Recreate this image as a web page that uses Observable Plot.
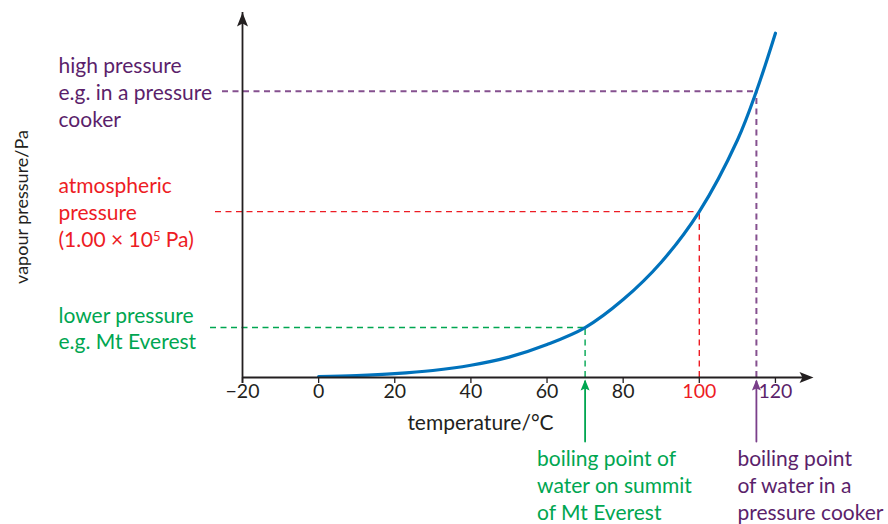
<!DOCTYPE html>
<html>
<head>
<meta charset="utf-8">
<script src="https://cdn.jsdelivr.net/npm/d3@7"></script>
<script src="https://cdn.jsdelivr.net/npm/@observablehq/plot@0.6"></script>
<style>
  html, body { margin: 0; padding: 0; background: #fff; }
  #chart { width: 888px; height: 524px; }
</style>
</head>
<body>
<div id="chart"></div>
<script>
// ---- data ----
const temps = [0, 10, 20, 30, 40, 50, 60, 70, 80, 90, 100, 110, 115, 120];
const pressures = [0.6, 1.2, 2.3, 4.2, 7.4, 12.3, 19.9, 30.1, 47, 69.5, 100, 143, 172.5, 207.5];

const xTicks = [-20, 0, 20, 40, 60, 80, 100, 120];
const xTickLabels = ["\u221220", "0", "20", "40", "60", "80", "100", "120"];

const markerNames = ["everest", "atmospheric", "cooker"];
const markerTemps = [70, 100, 115];
const markerPressures = [30.1, 100, 172.5];
const markerLeftLabels = [
  "lower pressure\ne.g. Mt Everest",
  "atmospheric\npressure\n(1.00 \u00d7 10\u2075 Pa)",
  "high pressure\ne.g. in a pressure\ncooker"
];
const markerBottomLabels = [
  "boiling point of\nwater on summit\nof Mt Everest",
  null,
  "boiling point\nof water in a\npressure cooker"
];

const xDomain = [-20, 130];
const yDomain = [0, 220];

// ---- styles ----
const C = {
  ink: "#231f20",
  blue: "#0072bc",
  green: "#00a651",
  red: "#ed1c24",
  purpleText: "#5b1f6b",
  purpleDash: "#85508f",
  purpleArrow: "#7a3f8a"
};
const textColors = [C.green, C.red, C.purpleText];
const dashColors = [C.green, C.red, C.purpleDash];
const dashWidths = [1.4, 1.4, 2];
const dashInsets = [-32, -27, -20];
const tickColors = xTicks.map(t => t === 100 ? C.red : t === 120 ? C.purpleText : C.ink);
const FS = 21;       // annotation font size
const LH = 1.27;     // annotation line height (em)

const curve = temps.map((t, i) => ({t, p: pressures[i]}));
const markers = markerNames.map((n, i) => ({
  name: n, t: markerTemps[i], p: markerPressures[i],
  left: markerLeftLabels[i], bottom: markerBottomLabels[i],
  text: textColors[i], dash: dashColors[i], w: dashWidths[i], inset: dashInsets[i]
}));
const bottomMarkers = markers.filter(m => m.bottom);
bottomMarkers[0].arrow = C.green;
bottomMarkers[1].arrow = C.purpleArrow;
const bottomDx = [-48, -19];

// arrowhead symbols (tip at origin)
const upHead = (len, half, notch) => ({
  draw(ctx) { ctx.moveTo(0, 0); ctx.lineTo(half, len); ctx.lineTo(0, notch); ctx.lineTo(-half, len); ctx.closePath(); }
});
const rightHead = (len, half, notch) => ({
  draw(ctx) { ctx.moveTo(0, 0); ctx.lineTo(-len, half); ctx.lineTo(-notch, 0); ctx.lineTo(-len, -half); ctx.closePath(); }
});
const lineShape = { draw(ctx, l) { ctx.moveTo(0, 0); ctx.lineTo(0, -l); } };

const marks = [
  // dashed guide lines
  ...markers.map(m => Plot.ruleY([m], {y: "p", x1: xDomain[0], x2: "t", insetLeft: m.inset,
      stroke: m.dash, strokeWidth: m.w, strokeDasharray: "6,4.5"})),
  ...markers.map(m => Plot.ruleX([m], {x: "t", y1: 0, y2: "p",
      stroke: m.dash, strokeWidth: m.w, strokeDasharray: "6,4.5"})),
  // curve
  Plot.line(curve, {x: "t", y: "p", curve: "catmull-rom", stroke: C.blue, strokeWidth: 3.2}),
  // axes
  Plot.ruleY([0], {x1: xDomain[0], x2: xDomain[1], stroke: C.ink, strokeWidth: 1.8, insetRight: 6}),
  Plot.ruleX([xDomain[0]], {y1: yDomain[0], y2: yDomain[1], stroke: C.ink, strokeWidth: 1.8, insetTop: 6}),
  Plot.dot([{x: xDomain[0], y: yDomain[1]}], {x: "x", y: "y", symbol: upHead(14, 5.5, 11), fill: C.ink, stroke: null}),
  Plot.dot([{x: xDomain[1], y: yDomain[0]}], {x: "x", y: "y", symbol: rightHead(14, 5.5, 11), fill: C.ink, stroke: null}),
  Plot.axisX({ticks: xTicks, tickSize: 6, tickFormat: () => "", label: null, stroke: C.ink, strokeWidth: 1.3}),
  Plot.text(xTicks, {x: d => d, frameAnchor: "bottom", dy: 20, text: (d, i) => xTickLabels[i],
      fill: (d, i) => tickColors[i], fontSize: 19.5}),
  // axis titles
  Plot.text(["temperature/\u00b0C"], {frameAnchor: "bottom-left", dx: 238, dy: 52, text: d => d,
      fill: C.ink, fontSize: FS, textAnchor: "middle"}),
  Plot.text(["vapour pressure/Pa"], {frameAnchor: "left", dx: -220, dy: 12, text: d => d, rotate: -90,
      fill: C.ink, fontSize: 18, textAnchor: "middle"}),
  // left labels
  Plot.text(markers, {y: "p", frameAnchor: "left", dx: -184, text: "left", fill: "text",
      textAnchor: "start", lineHeight: LH, fontSize: FS}),
  // bottom arrows
  Plot.vector(bottomMarkers, {x: "t", y: 0, length: 60, anchor: "start", dy: 64, shape: lineShape,
      stroke: "arrow", strokeWidth: 1.8}),
  Plot.dot(bottomMarkers, {x: "t", y: 0, dy: 2, symbol: upHead(11, 4.5, 9), fill: "arrow", stroke: null}),
  // bottom labels
  ...bottomMarkers.map((m, i) => Plot.text([m], {x: "t", frameAnchor: "bottom", dx: bottomDx[i], text: "bottom",
      fill: "text", textAnchor: "start", lineAnchor: "top", lineHeight: LH, dy: 70, fontSize: FS}))
];

const chart = Plot.plot({
  width: 888,
  height: 524,
  marginLeft: 242,
  marginRight: 75,
  marginTop: 12,
  marginBottom: 147,
  x: {domain: xDomain, axis: null},
  y: {domain: yDomain, axis: null},
  color: {type: "identity"},
  style: {fontFamily: "Lato, 'Open Sans', sans-serif", fontSize: "19px", background: "#fff", color: C.ink, overflow: "visible"},
  marks
});

// render the superscript 5 as a raised, smaller digit
chart.querySelectorAll("tspan, text").forEach(el => {
  if (el.childElementCount === 0 && el.textContent.includes("\u2075")) {
    const [before, after] = el.textContent.split("\u2075");
    el.textContent = before;
    const sup = document.createElementNS("http://www.w3.org/2000/svg", "tspan");
    sup.setAttribute("dy", "-0.45em");
    sup.setAttribute("font-size", "0.62em");
    sup.textContent = "5";
    el.appendChild(sup);
    const rest = document.createElementNS("http://www.w3.org/2000/svg", "tspan");
    rest.setAttribute("dy", "0.28em");
    rest.textContent = after;
    el.appendChild(rest);
  }
});

document.getElementById("chart").appendChild(chart);
</script>
</body>
</html>
